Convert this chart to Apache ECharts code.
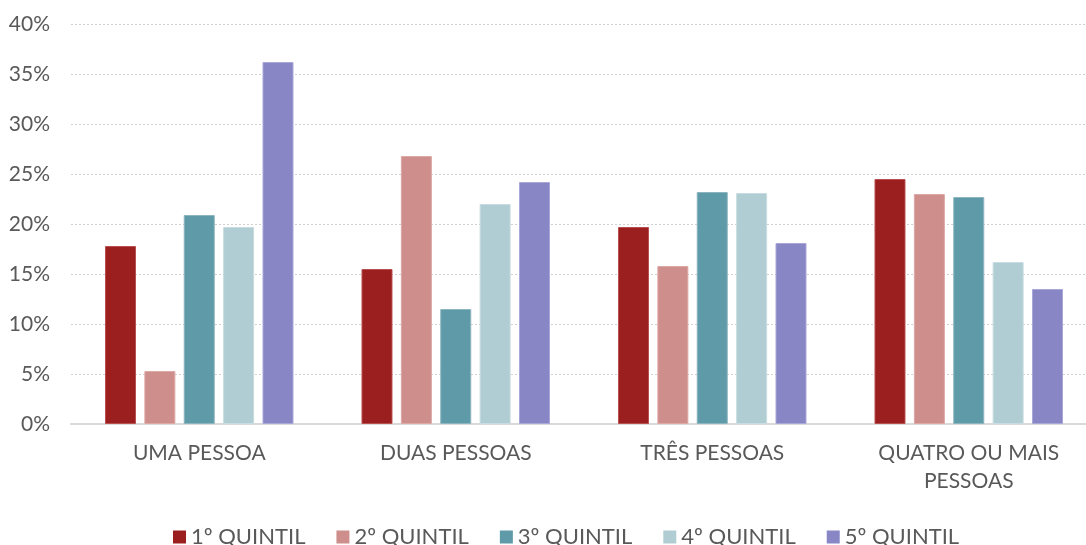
<!DOCTYPE html>
<html><head><meta charset="utf-8">
<script src="https://cdn.jsdelivr.net/npm/echarts@6/dist/echarts.min.js"></script>
<style>html,body{margin:0;padding:0;background:#fff}#c{width:1086px;height:545px}</style>
</head><body><div id="c"></div>
<script>
const categories = ['UMA PESSOA', 'DUAS PESSOAS', 'TRÊS PESSOAS', 'QUATRO OU MAIS\nPESSOAS'];
const seriesNames = ['1º QUINTIL', '2º QUINTIL', '3º QUINTIL', '4º QUINTIL', '5º QUINTIL'];
const q1 = [17.8, 15.5, 19.7, 24.5];
const q2 = [5.3, 26.8, 15.8, 23.0];
const q3 = [20.9, 11.5, 23.2, 22.7];
const q4 = [19.7, 22.0, 23.1, 16.2];
const q5 = [36.2, 24.2, 18.1, 13.5];
const colors = ['#9C1F1F', '#CE8E8C', '#5F9AA8', '#B0CDD3', '#8986C6'];
const borders = ['#B85050', '#DDA9A7', '#8CB5BF', '#C8DDE1', '#A9A7D8'];
const allData = [q1, q2, q3, q4, q5];
const FONT = 'Lato';
const chart = echarts.init(document.getElementById('c'), null, {renderer: 'canvas'});
chart.setOption({
  animation: false,
  textStyle: {fontFamily: FONT},
  grid: {left: 71, width: 1026, top: 24, height: 400, outerBoundsMode: 'none', containLabel: false},
  legend: {
    left: 168, top: 521,
    itemWidth: 13, itemHeight: 13, itemGap: 31,
    icon: 'rect',
    itemStyle: {borderWidth: 0},
    textStyle: {fontFamily: FONT, fontSize: 22, color: '#595959'},
    data: seriesNames
  },
  xAxis: {
    type: 'category', data: categories,
    axisLine: {lineStyle: {color: '#D9D9D9', width: 2}},
    axisTick: {show: false},
    axisLabel: {fontFamily: FONT, fontSize: 21, color: '#595959', margin: 15, lineHeight: 28}
  },
  yAxis: {
    type: 'value', min: 0, max: 40, interval: 5,
    axisLine: {show: false}, axisTick: {show: false},
    axisLabel: {fontFamily: FONT, fontSize: 21, color: '#595959', margin: 21, formatter: v => v + '%'},
    splitLine: {lineStyle: {color: '#D0D0D0', type: [2, 2], width: 1}}
  },
  series: allData.map((d, i) => ({
    name: seriesNames[i], type: 'bar', data: d,
    barGap: '27%', barCategoryGap: '26.5%',
    itemStyle: {color: colors[i], borderColor: borders[i], borderWidth: 1}
  }))
});
</script></body></html>
